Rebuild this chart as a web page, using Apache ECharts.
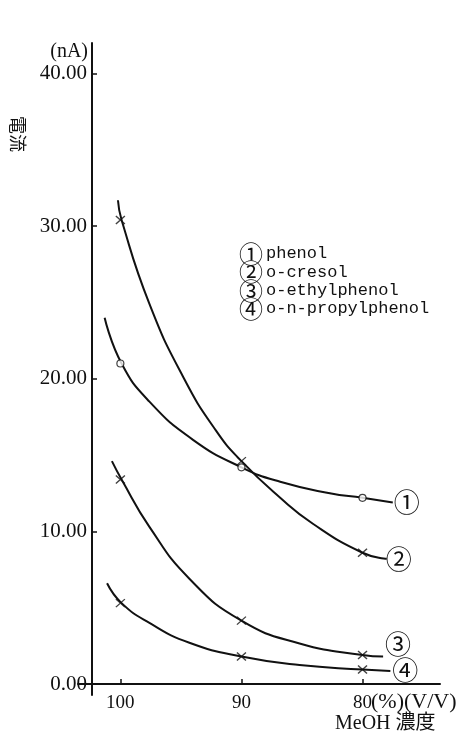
<!DOCTYPE html>
<html>
<head>
<meta charset="utf-8">
<script src="https://cdn.jsdelivr.net/npm/echarts@6/dist/echarts.min.js"></script>
<style>
  html, body { margin: 0; padding: 0; background: #fff; }
  #chart { width: 471px; height: 739px; }
</style>
</head>
<body>
<div id="chart"></div>
<script>
// compounds, in legend order
const names = ['phenol', 'o-cresol', 'o-ethylphenol', 'o-n-propylphenol'];
const circled = ['①', '②', '③', '④'];

// measured points (MeOH %)
const meohX = [100, 90, 80];
const phenolY = [21.0, 14.2, 12.2];
const cresolY = [30.4, 14.6, 8.6];
const ethylY = [13.4, 4.15, 1.9];
const propylY = [5.3, 1.8, 0.95];

// hand drawn curves [MeOH %, nA]
const phenolCurve = [[101.3, 24.0], [99.9, 21.0], [97.6, 18.5], [94.0, 16.0], [90.0, 14.2],
  [86.8, 13.25], [82.7, 12.5], [80.0, 12.2], [77.5, 11.9]];
const cresolCurve = [[100.2, 31.7], [99.9, 30.4], [97.6, 24.9], [94.8, 20.1], [92.1, 16.6],
  [90.0, 14.6], [86.8, 12.2], [84.1, 10.5], [80.0, 8.6], [78.0, 8.2]];
const ethylCurve = [[100.7, 14.6], [99.9, 13.4], [97.6, 10.3], [94.3, 6.9], [90.0, 4.15],
  [85.2, 2.66], [80.0, 1.9], [78.3, 1.8]];
const propylCurve = [[101.1, 6.6], [99.9, 5.3], [97.6, 4.0], [94.3, 2.7], [90.0, 1.8],
  [85.2, 1.24], [80.0, 0.95], [77.7, 0.85]];

// tick labels
const xTicks = [100, 90, 80];
const yTicks = [0, 10, 20, 30, 40];

const measured = [phenolY, cresolY, ethylY, propylY];
const curves = [phenolCurve, cresolCurve, ethylCurve, propylCurve];

const serif = '"Liberation Serif", "DejaVu Serif", serif';
const cjk = '"Noto Sans CJK JP", sans-serif';
const ink = '#111';

const chart = echarts.init(document.getElementById('chart'));

// end label offsets (px) so the circled numbers sit like the reference
const endOffsets = [[35, 0], [33, 0], [36, -12], [36, -1]];

const series = [];
names.forEach((n, i) => {
  series.push({
    name: n,
    type: 'line',
    data: curves[i],
    smooth: 0.5,
    showSymbol: false,
    symbol: 'none',
    lineStyle: { color: ink, width: 2 },
    itemStyle: { color: ink },
    endLabel: {
      show: true,
      formatter: circled[i],
      fontFamily: cjk,
      fontSize: 26,
      color: ink,
      offset: endOffsets[i]
    },
    z: 2
  });
  series.push({
    name: n,
    type: 'scatter',
    data: meohX.map((x, k) => [x, measured[i][k]]),
    symbol: i === 0 ? 'circle' : 'path://M0,0L10,9M10,0L0,9',
    symbolSize: i === 0 ? 7 : [9, 8],
    itemStyle: i === 0
      ? { color: '#fff', borderColor: ink, borderWidth: 1.2 }
      : { color: 'none', borderColor: ink, borderWidth: 1.3 },
    z: 3
  });
});

chart.setOption({
  backgroundColor: '#fff',
  animation: false,
  grid: { left: 78, right: 31, top: 43, bottom: 44 },
  legend: {
    data: names,
    orient: 'vertical',
    left: 229,
    top: 237,
    icon: 'none',
    itemWidth: 0,
    itemHeight: 14,
    itemGap: -5.7,
    formatter: name => '{c|' + circled[names.indexOf(name)] + '}{t|' + name + '}',
    textStyle: {
      color: ink,
      lineHeight: 18,
      rich: {
        c: { fontFamily: cjk, fontSize: 24, lineHeight: 18, color: ink },
        t: { fontFamily: '"Liberation Mono", "DejaVu Sans Mono", monospace', fontSize: 17,
          lineHeight: 18, color: ink, padding: [0, 0, 0, 3] }
      }
    }
  },
  xAxis: {
    type: 'value',
    inverse: true,
    min: 73.6,
    max: 103.5,
    axisLine: { onZero: true, lineStyle: { color: ink, width: 2 } },
    axisTick: { inside: true, length: 5, customValues: xTicks, lineStyle: { color: ink, width: 1.5 } },
    axisLabel: {
      customValues: xTicks,
      margin: -1,
      color: ink,
      fontFamily: serif,
      fontSize: 19
    },
    splitLine: { show: false }
  },
  yAxis: {
    type: 'value',
    min: -0.72,
    max: 42,
    offset: -14,
    axisLine: { show: true, onZero: false, lineStyle: { color: ink, width: 2 } },
    axisTick: { show: true, inside: true, length: 5, customValues: yTicks, lineStyle: { color: ink, width: 1.5 } },
    axisLabel: {
      customValues: yTicks,
      margin: 5,
      color: ink,
      fontFamily: serif,
      fontSize: 21,
      formatter: v => v.toFixed(2)
    },
    splitLine: { show: false }
  },
  graphic: [
    { type: 'text', x: 88, y: 52,
      style: { text: '(nA)', font: '20px ' + serif, fill: ink, align: 'right', verticalAlign: 'middle' } },
    { type: 'text', x: 18, y: 134, rotation: -Math.PI / 2,
      style: { text: '電流', font: '18px ' + cjk, fill: ink, align: 'center', verticalAlign: 'middle' } },
    { type: 'text', x: 371, y: 702,
      style: { text: '(%)(V/V)', font: '22px ' + serif, fill: ink, verticalAlign: 'middle' } },
    { type: 'text', x: 335, y: 724,
      style: { text: 'MeOH 濃度', font: '20px ' + serif + ', ' + cjk, fill: ink, verticalAlign: 'middle' } }
  ],
  series: series
});
</script>
</body>
</html>
